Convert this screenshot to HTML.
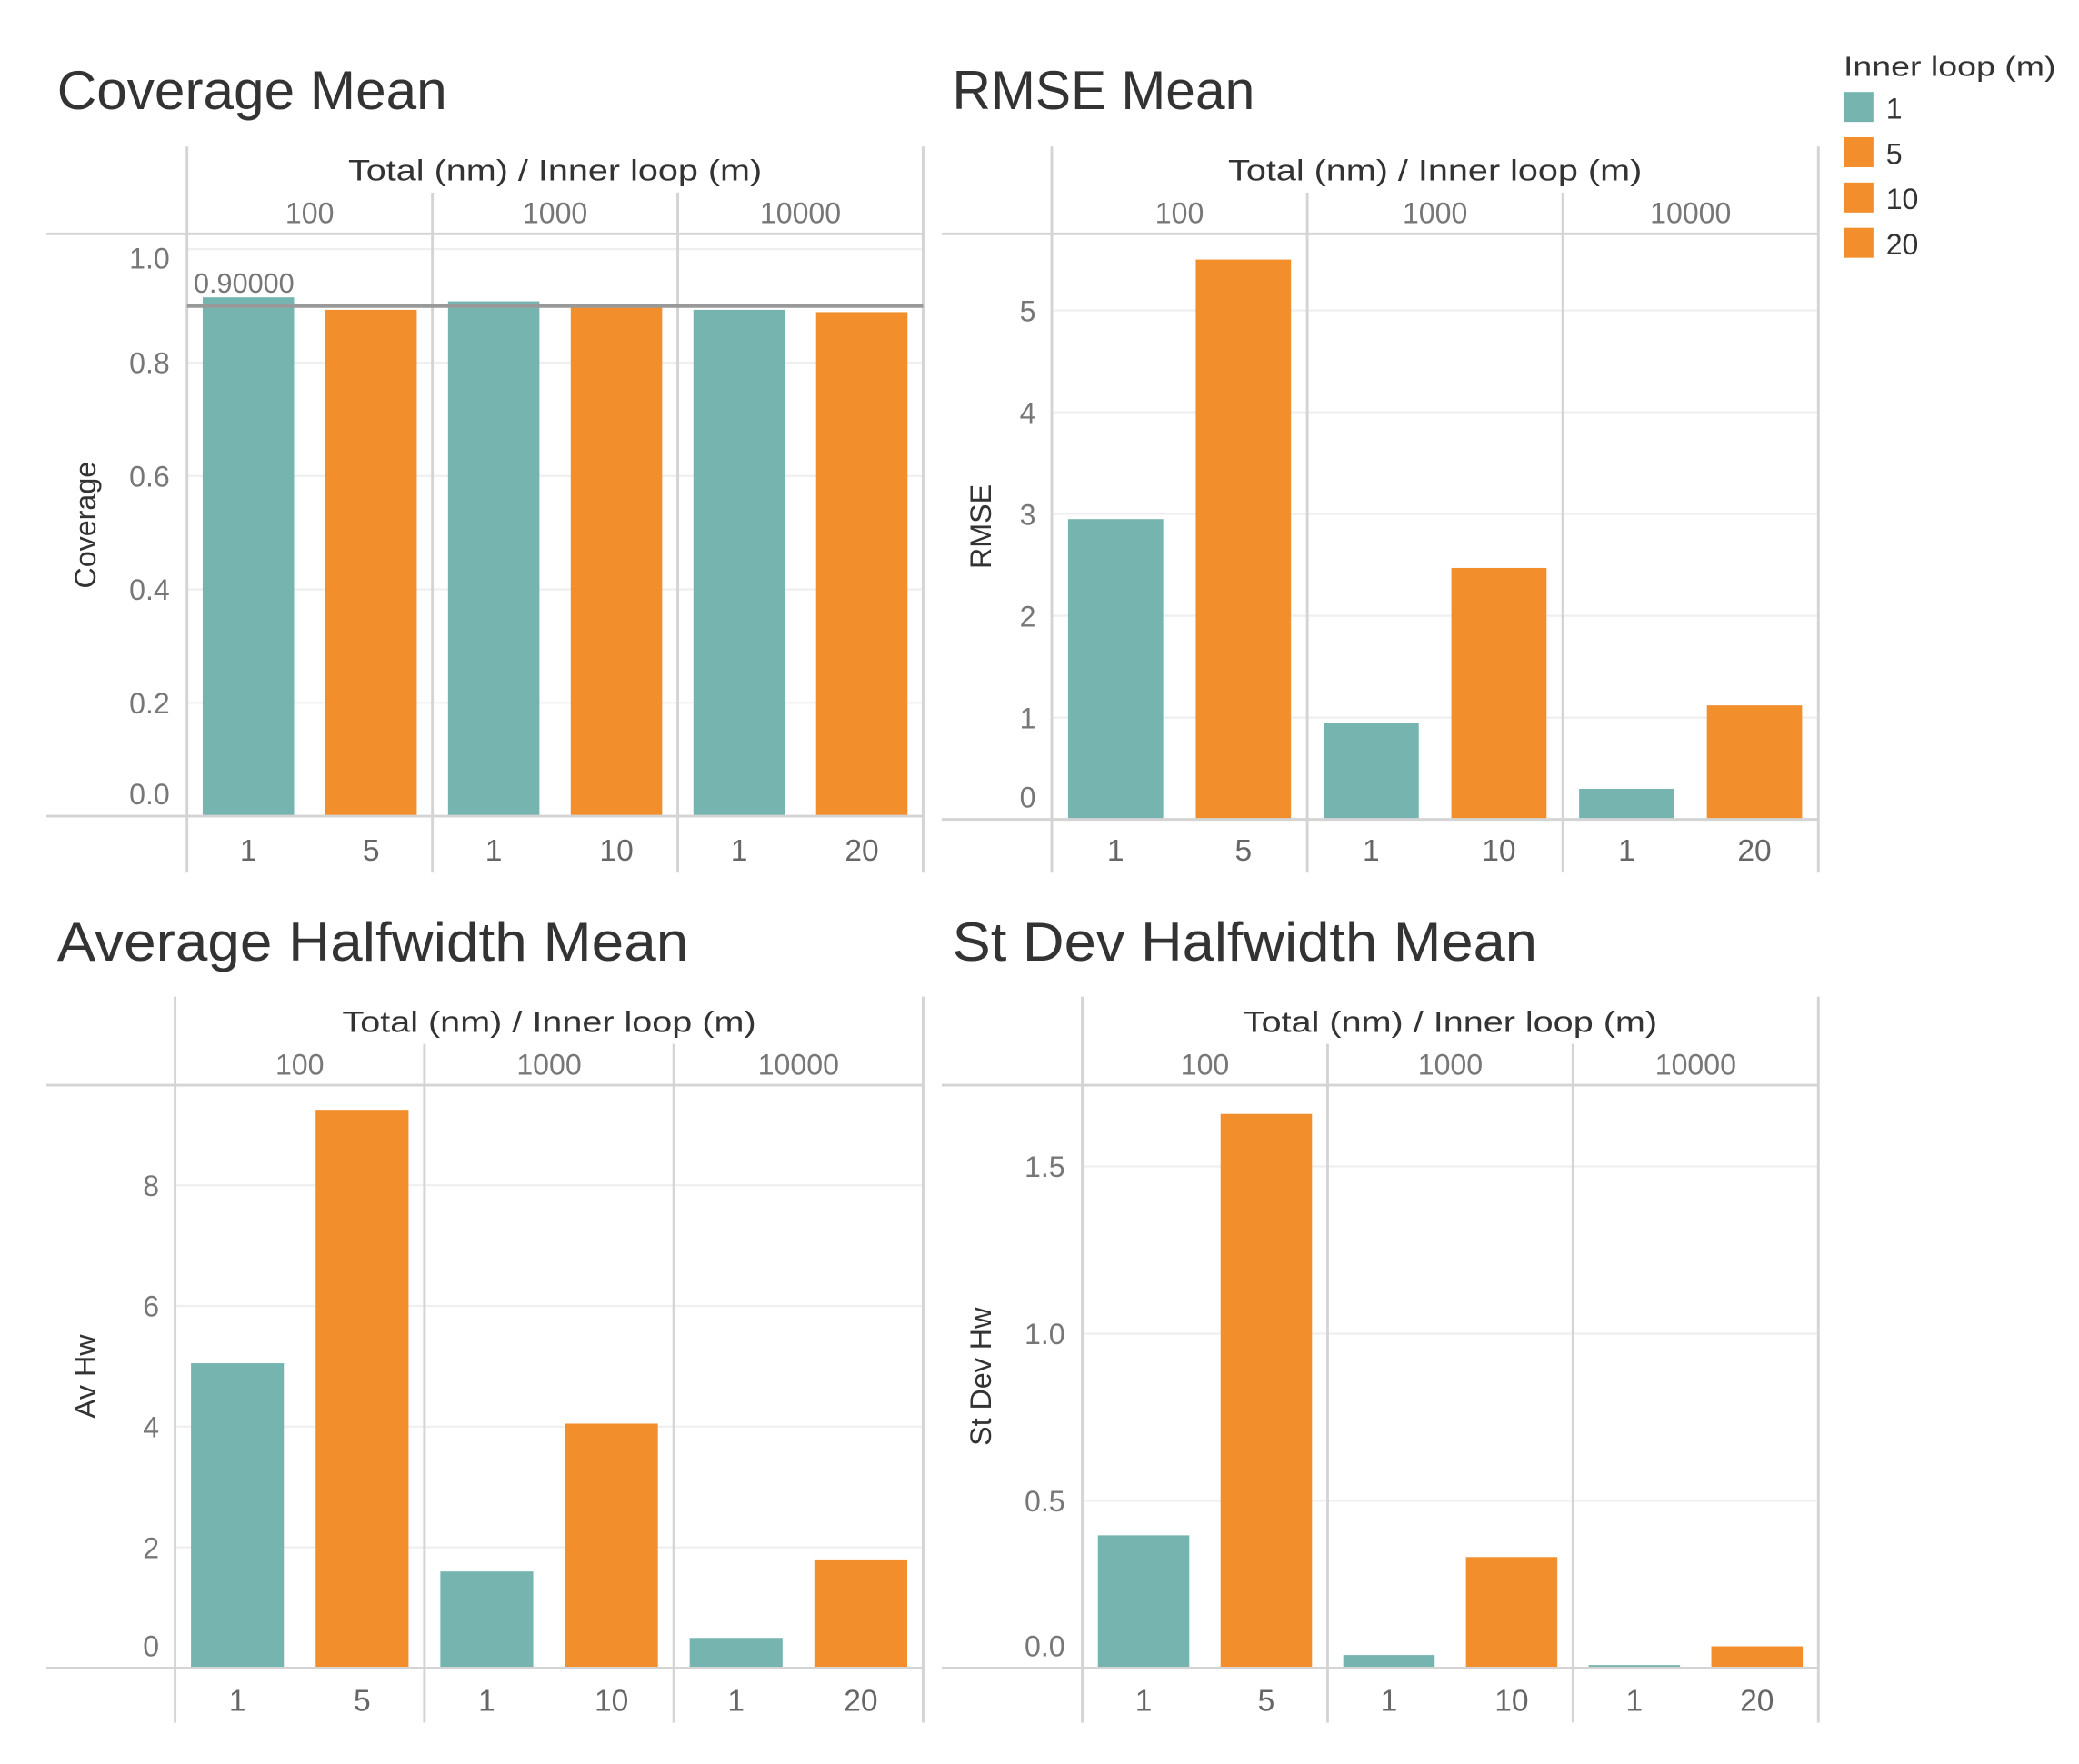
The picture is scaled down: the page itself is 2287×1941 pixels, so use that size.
<!DOCTYPE html>
<html><head><meta charset="utf-8"><style>
html,body{margin:0;padding:0;background:#fff;}
svg{display:block;}
text{font-family:"Liberation Sans",sans-serif;}
</style></head>
<body>
<svg id="chart" width="2287" height="1941" viewBox="0 0 1567.5 1324" preserveAspectRatio="none" xmlns="http://www.w3.org/2000/svg">
<g>
<text x="1390" y="57" font-size="21" fill="#333" textLength="160" lengthAdjust="spacingAndGlyphs">Inner loop (m)</text>
<rect x="1390" y="69" width="22.5" height="22.5" fill="#76b5af"/>
<text x="1422" y="89" font-size="22" fill="#333">1</text>
<rect x="1390" y="103" width="22.5" height="22.5" fill="#f28e2b"/>
<text x="1422" y="123" font-size="22" fill="#333">5</text>
<rect x="1390" y="137" width="22.5" height="22.5" fill="#f28e2b"/>
<text x="1422" y="157" font-size="22" fill="#333">10</text>
<rect x="1390" y="171" width="22.5" height="22.5" fill="#f28e2b"/>
<text x="1422" y="191" font-size="22" fill="#333">20</text>
</g>
</svg>
<script>
const groups = ["100", "1000", "10000"];
const innerLabels = [["1","5"],["1","10"],["1","20"]];
const coverageValues = [0.915, 0.893, 0.908, 0.897, 0.893, 0.889];
const rmseValues = [2.95, 5.5, 0.95, 2.47, 0.30, 1.12];
const avHwValues = [5.05, 9.25, 1.6, 4.05, 0.5, 1.8];
const stDevValues = [0.397, 1.657, 0.039, 0.332, 0.009, 0.065];
const coverageTicks = [0, 0.2, 0.4, 0.6, 0.8, 1.0];
const coverageTickLabels = ["0.0","0.2","0.4","0.6","0.8","1.0"];
const rmseTicks = [0, 1, 2, 3, 4, 5];
const rmseTickLabels = ["0","1","2","3","4","5"];
const avHwTicks = [0, 2, 4, 6, 8];
const avHwTickLabels = ["0","2","4","6","8"];
const stDevTicks = [0, 0.5, 1.0, 1.5];
const stDevTickLabels = ["0.0","0.5","1.0","1.5"];
const refLineValue = 0.9;
const refLineLabel = "0.90000";

const NS = "http://www.w3.org/2000/svg";
const svg = document.getElementById("chart");
const colors = ["#76b5af", "#f28e2b"];

function mk(tag, attrs, parent, txt) {
  const e = document.createElementNS(NS, tag);
  for (const k in attrs) e.setAttribute(k, attrs[k]);
  if (txt !== undefined) e.textContent = txt;
  parent.appendChild(e);
  return e;
}

function drawPanel(p) {
  const g = mk("g", {}, svg);
  
  
  const t = mk("text", {x: p.titleX, y: p.titleY, "font-size": 41, fill: "#333", textLength: p.titleW, lengthAdjust: "spacingAndGlyphs"}, g, p.title);
  
  
  const span = p.right - p.left;
  const paneW = span / 3;
  const yScale = v => p.base - (v / p.top) * (p.base - p.header);
  // gridlines
  p.ticks.forEach((tv, i) => {
    const y = yScale(tv);
    if (tv !== 0) {
      const gl = mk("line", {x1: p.left, x2: p.right, y1: y, y2: y, stroke: "#efefef", "stroke-width": 1.5}, g);
      
      
    }
    let ly = Math.max(Math.min(y, p.base - 17), p.header + 18);
    const tl = mk("text", {x: p.tickX, y: ly + 8, "font-size": 22, fill: "#777", "text-anchor": "end"}, g, p.tickLabels[i]);
    
    
  });
  // bars
  p.values.forEach((v, i) => {
    const gi = Math.floor(i / 2), si = i % 2;
    const cw = paneW / 2;
    const bw = cw * 0.745;
    const x = p.left + gi * paneW + si * cw + (cw - bw) / 2;
    const y = yScale(v);
    const r = mk("rect", {x: x, y: y, width: bw, height: p.base - y, fill: colors[si]}, g);
    
    
    const xl = mk("text", {x: p.left + gi * paneW + si * cw + cw / 2, y: p.xLabY, "font-size": 23, fill: "#666", "text-anchor": "middle"}, g, innerLabels[gi][si]);
    
    
  });
  // frame lines
  const lc = "#d4d4d4";
  const l1 = mk("line", {x1: p.axisStart, x2: p.right, y1: p.header, y2: p.header, stroke: lc, "stroke-width": 2}, g);
  
  
  const l2 = mk("line", {x1: p.axisStart, x2: p.right, y1: p.base, y2: p.base, stroke: lc, "stroke-width": 2}, g);
  
  
  [p.left, p.right].forEach(x => {
    const v = mk("line", {x1: x, x2: x, y1: p.frameTop, y2: p.frameBottom, stroke: lc, "stroke-width": 2}, g);
    
    
  });
  for (let k = 1; k < 3; k++) {
    const x = p.left + k * paneW;
    const v = mk("line", {x1: x, x2: x, y1: p.header - 31, y2: p.frameBottom, stroke: lc, "stroke-width": 2}, g);
    
    
  }
  const ht = mk("text", {x: (p.left + p.right) / 2, y: p.header - 40, "font-size": 22, fill: "#333", "text-anchor": "middle", textLength: 312, lengthAdjust: "spacingAndGlyphs"}, g, "Total (nm)  /  Inner loop (m)");
  
  
  groups.forEach((gname, gi) => {
    const h = mk("text", {x: p.left + gi * paneW + paneW / 2, y: p.header - 8, "font-size": 22, fill: "#777", "text-anchor": "middle"}, g, gname);
    
    
  });
  const ay = (p.base + p.header) / 2;
  const at = mk("text", {x: p.axisX, y: ay, "font-size": 22, fill: "#333", "text-anchor": "middle", transform: "rotate(-90 " + p.axisX + " " + ay + ")"}, g, p.axisTitle);
  
  
  return {g, yScale};
}

const top1 = drawPanel({name: "coverage", title: "Coverage Mean", titleX: 43, titleY: 82, titleW: 294,
  left: 141, right: 696, axisStart: 35, header: 175.5, base: 612.6, top: (612.6 - 175.5) / 425.6,
  frameTop: 110, frameBottom: 655, xLabY: 646, tickX: 128, axisX: 72, axisTitle: "Coverage",
  values: coverageValues, ticks: coverageTicks, tickLabels: coverageTickLabels});
{
  const y = top1.yScale(refLineValue);
  const rl = mk("line", {x1: 141, x2: 696, y1: y, y2: y, stroke: "#999", "stroke-width": 3}, top1.g);
  
  
  const rt = mk("text", {x: 146, y: y - 10, "font-size": 21, fill: "#777"}, top1.g, refLineLabel);
  
  
}
drawPanel({name: "rmse", title: "RMSE Mean", titleX: 718, titleY: 82, titleW: 228,
  left: 793, right: 1371, axisStart: 710, header: 175.5, base: 615, top: (615 - 175.5) / 76.4,
  frameTop: 110, frameBottom: 655, xLabY: 646, tickX: 781, axisX: 747, axisTitle: "RMSE",
  values: rmseValues, ticks: rmseTicks, tickLabels: rmseTickLabels});
drawPanel({name: "av-hw", title: "Average Halfwidth Mean", titleX: 43, titleY: 721, titleW: 476,
  left: 132, right: 696, axisStart: 35, header: 814.5, base: 1252, top: (1252 - 814.5) / 45.3,
  frameTop: 748, frameBottom: 1293, xLabY: 1284, tickX: 120, axisX: 72, axisTitle: "Av Hw",
  values: avHwValues, ticks: avHwTicks, tickLabels: avHwTickLabels});
drawPanel({name: "stdev-hw", title: "St Dev Halfwidth Mean", titleX: 718, titleY: 721, titleW: 441,
  left: 816, right: 1371, axisStart: 710, header: 814.5, base: 1252, top: (1252 - 814.5) / 251,
  frameTop: 748, frameBottom: 1293, xLabY: 1284, tickX: 803, axisX: 747, axisTitle: "St Dev Hw",
  values: stDevValues, ticks: stDevTicks, tickLabels: stDevTickLabels});
</script>
</body></html>
